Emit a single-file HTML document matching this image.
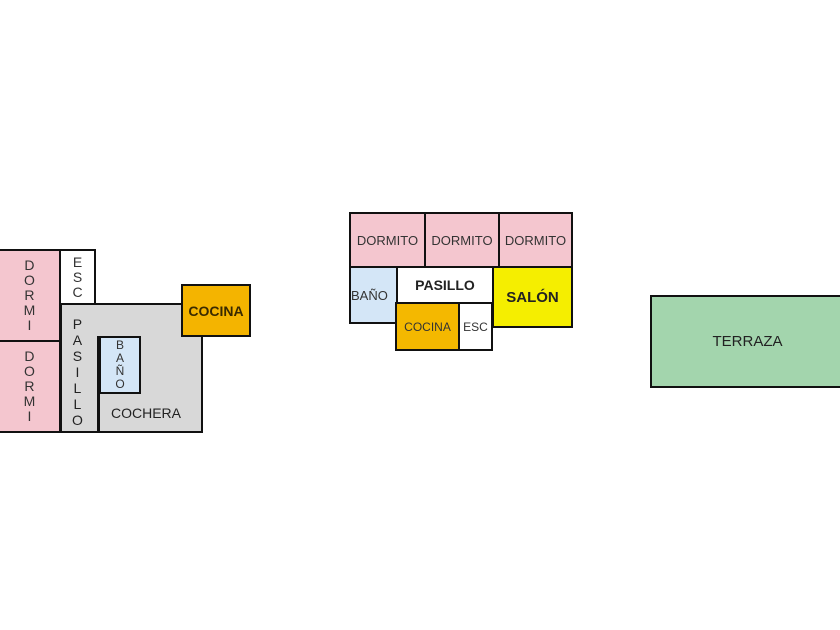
<!DOCTYPE html>
<html><head><style>
body{margin:0;width:840px;height:630px;background:#fff;position:relative;overflow:hidden;font-family:"Liberation Sans",sans-serif;}
.r{position:absolute;box-sizing:border-box;border:2px solid #111;display:flex;align-items:center;justify-content:center;font-size:13px;color:#333;}
.v{flex-direction:column;line-height:15px;text-align:center;}
.l{position:absolute;background:#111;}
</style></head><body>
<!-- left plan -->
<div class="r" style="left:60px;top:303px;width:124px;height:36px;background:#d8d8d8;border-right:none"></div>
<div class="r" style="left:60px;top:335px;width:143px;height:98px;background:#d8d8d8;border-top:none"></div>
<div class="r v" style="left:-2px;top:249px;width:63px;height:93px;background:#f4c6cf;font-size:14px">D<br>O<br>R<br>M<br>I</div>
<div class="r v" style="left:-2px;top:340px;width:63px;height:93px;background:#f4c6cf;font-size:14px">D<br>O<br>R<br>M<br>I</div>
<div class="r v" style="left:59px;top:249px;width:37px;height:56px;background:#fff;font-size:14px">E<br>S<br>C</div>
<div class="r v" style="left:99px;top:336px;width:42px;height:58px;background:#d4e6f7;font-size:12px;line-height:13px">B<br>A<br>Ñ<br>O</div>
<div class="l" style="left:97px;top:336px;width:3px;height:97px"></div>
<div class="r" style="left:181px;top:284px;width:70px;height:53px;background:#f4b400;font-weight:bold;font-size:14px;color:#3a2a00">COCINA</div>
<div style="position:absolute;left:111px;top:405px;font-size:14px;color:#222">COCHERA</div>
<div class="v" style="position:absolute;left:72px;top:316px;display:flex;font-size:14px;line-height:16px;color:#222">P<br>A<br>S<br>I<br>L<br>L<br>O</div>
<!-- middle plan -->
<div class="r" style="left:349px;top:212px;width:77px;height:56px;background:#f4c6cf">DORMITO</div>
<div class="r" style="left:424px;top:212px;width:76px;height:56px;background:#f4c6cf">DORMITO</div>
<div class="r" style="left:498px;top:212px;width:75px;height:56px;background:#f4c6cf">DORMITO</div>
<div class="r" style="left:349px;top:266px;width:49px;height:58px;background:#d4e6f7;justify-content:flex-start">BAÑO</div>
<div class="r" style="left:396px;top:266px;width:98px;height:38px;background:#fff;font-weight:bold;font-size:14px;color:#222">PASILLO</div>
<div class="r" style="left:492px;top:266px;width:81px;height:62px;background:#f5ee00;font-weight:bold;font-size:15px;color:#222">SALÓN</div>
<div class="r" style="left:395px;top:302px;width:65px;height:49px;background:#f4b800;font-size:12px">COCINA</div>
<div class="r" style="left:458px;top:302px;width:35px;height:49px;background:#fff;font-size:12px">ESC</div>
<!-- terraza -->
<div class="r" style="left:650px;top:295px;width:195px;height:93px;background:#a3d5ad;font-size:15px;color:#222">TERRAZA</div>
</body></html>
